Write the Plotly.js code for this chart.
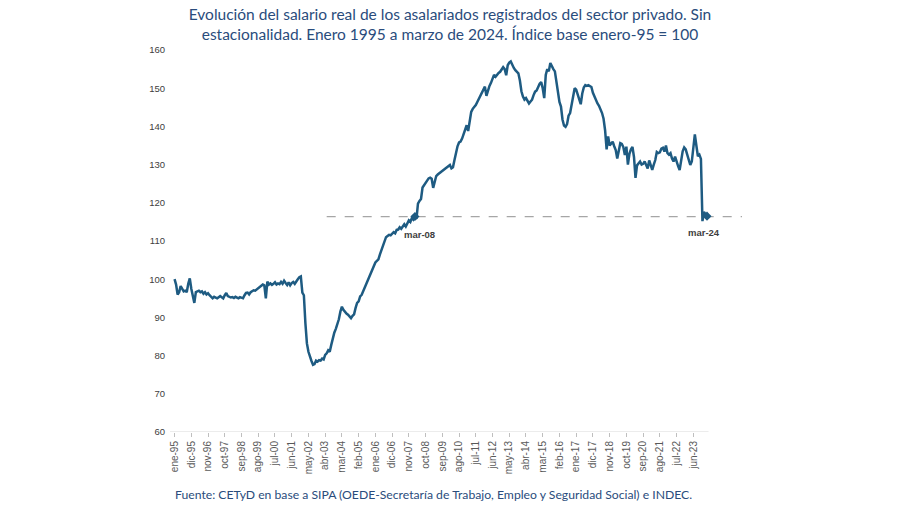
<!DOCTYPE html>
<html>
<head>
<meta charset="utf-8">
<script src="https://cdn.plot.ly/plotly-3.0.1.min.js"></script>
<style>
html,body{margin:0;padding:0;background:#fff;}
#chart{width:900px;height:505px;}
</style>
</head>
<body>
<div id="chart"></div>
<script>
// Índice del salario real (base enero-95 = 100), mensual, ene-95 a mar-24
const mesesAbrev = ['ene','feb','mar','abr','may','jun','jul','ago','sep','oct','nov','dic'];
const anioInicio = 1995;

const indice = [
  // 1995
  100.0, 98.6, 96.0, 96.6, 98.2, 97.4, 96.8, 97.0, 96.6, 98.8, 100.2, 97.5,
  // 1996
  95.5, 93.8, 96.6, 96.8, 97.0, 96.6, 96.8, 96.2, 96.6, 96.0, 96.3, 95.8,
  // 1997
  95.3, 95.0, 95.4, 95.1, 95.0, 95.3, 95.6, 95.3, 95.0, 95.8, 96.4, 95.6,
  // 1998
  95.4, 95.2, 95.3, 95.1, 95.4, 95.2, 95.0, 95.3, 95.1, 95.0, 95.8, 96.4,
  // 1999
  96.5, 96.0, 96.6, 96.9, 97.1, 97.0, 97.3, 97.6, 97.8, 98.2, 98.6, 98.4,
  // 2000
  95.0, 99.4, 98.6, 98.9, 98.5, 98.8, 99.2, 98.6, 98.9, 98.7, 99.3, 98.8,
  // 2001
  99.6, 99.0, 98.5, 99.2, 98.4, 99.0, 99.3, 98.8, 99.6, 100.0, 100.5, 100.7,
  // 2002
  96.5, 95.8, 88.5, 83.2, 81.0, 79.5, 78.6, 77.6, 77.8, 78.7, 78.4, 78.8,
  // 2003
  78.7, 79.2, 79.0, 80.2, 80.6, 81.4, 81.0, 82.8, 84.6, 86.0, 87.0, 88.0,
  // 2004
  89.5, 91.5, 92.8, 92.0, 91.4, 91.0, 90.7, 90.2, 89.8, 90.4, 90.8, 92.5,
  // 2005
  93.8, 94.2, 95.5, 95.9, 96.8, 97.8, 98.6, 99.6, 100.8, 101.5, 102.4, 103.5,
  // 2006
  104.4, 104.8, 105.2, 106.5, 107.6, 108.8, 110.3, 111.0, 111.3, 111.6, 111.5, 112.0,
  // 2007
  112.3, 112.0, 112.9, 113.0, 113.6, 113.2, 114.0, 114.4, 113.8, 114.8, 115.4, 115.0,
  // 2008
  116.0, 115.6, 116.4, 115.8, 119.8, 120.5, 121.0, 124.0, 124.6, 125.4, 125.8, 126.4,
  // 2009
  126.6, 126.3, 123.9, 125.5, 127.0, 127.4, 127.7, 128.0, 128.3, 128.6, 128.8, 129.1,
  // 2010
  129.4, 129.9, 129.0, 129.3, 131.2, 133.4, 134.8, 135.8, 136.0, 136.8, 138.0, 139.4,
  // 2011
  140.3, 138.8, 141.2, 143.8, 144.6, 145.0, 145.6, 146.4, 147.2, 148.2, 149.1, 149.6,
  // 2012
  150.4, 148.0, 149.6, 150.6, 151.4, 152.4, 153.5, 153.0, 153.6, 154.0, 154.3, 154.8,
  // 2013
  155.5, 155.0, 153.4, 156.0, 156.7, 157.0, 156.0, 155.3, 154.7, 154.3, 153.9, 152.0,
  // 2014
  149.2, 147.8, 147.0, 147.4, 146.6, 146.0, 146.5, 147.0, 148.2, 149.1, 149.4, 150.3,
  // 2015
  151.2, 151.6, 150.0, 147.4, 153.5, 155.0, 154.4, 156.6, 155.6, 155.0, 154.4, 151.5,
  // 2016
  148.0, 146.4, 145.2, 141.8, 140.2, 139.9, 140.6, 142.8, 143.5, 146.0, 148.0, 150.0,
  // 2017
  149.6, 148.2, 146.5, 145.8, 148.6, 150.2, 150.8, 150.6, 150.8, 150.5, 150.3, 148.8,
  // 2018
  147.8, 147.0, 146.0, 145.4, 144.6, 143.5, 142.0, 139.0, 134.0, 137.4, 135.0, 135.5,
  // 2019
  136.0, 134.8, 133.8, 131.6, 133.3, 135.6, 135.4, 134.6, 132.5, 134.7, 130.0, 132.8,
  // 2020
  134.0, 134.6, 132.0, 126.5, 129.8, 130.4, 130.8, 130.0, 130.2, 130.8, 129.6, 129.0,
  // 2021
  131.1, 129.8, 128.6, 130.0, 131.2, 133.3, 133.0, 133.2, 134.2, 134.4, 133.4, 135.0,
  // 2022
  133.0, 132.6, 133.0, 131.6, 130.8, 132.1, 130.6, 129.6, 128.6, 131.5, 133.5, 134.5,
  // 2023
  134.0, 132.6, 130.8, 129.9, 130.8, 134.5, 137.9, 135.0, 132.2, 132.6, 131.5, 115.2,
  // 2024
  117.6, 117.0, 116.5
];

const etiquetasEje = ['ene-95','dic-95','nov-96','oct-97','sep-98','ago-99','jul-00','jun-01',
  'may-02','abr-03','mar-04','feb-05','ene-06','dic-06','nov-07','oct-08','sep-09','ago-10',
  'jul-11','jun-12','may-13','abr-14','mar-15','feb-16','ene-17','dic-17','nov-18','oct-19',
  'sep-20','ago-21','jul-22','jun-23'];

const destacados = ['mar-08','mar-24'];
const yTicks = [60,70,80,90,100,110,120,130,140,150,160];

const categorias = indice.map((_, k) =>
  mesesAbrev[k % 12] + '-' + String((anioInicio + Math.floor(k / 12)) % 100).padStart(2, '0'));

const idx08 = categorias.indexOf('mar-08');
const idx24 = categorias.indexOf('mar-24');
const nivelRef = indice[idx08];

const azul = '#1E5B82';
const azulTexto = '#2A4C7C';
const fuenteEje = '"Liberation Sans", Arial, sans-serif';
const fuenteTexto = 'Lato, "Liberation Sans", sans-serif';

const traces = [
  {
    type: 'scatter', mode: 'lines',
    x: categorias, y: indice,
    line: {color: azul, width: 2.5},
    hoverinfo: 'x+y', showlegend: false
  },
  {
    type: 'scatter', mode: 'markers',
    x: destacados, y: destacados.map(c => indice[categorias.indexOf(c)]),
    marker: {symbol: 'diamond', size: 7, color: azul},
    showlegend: false, hoverinfo: 'skip'
  }
];

const layout = {
  width: 900, height: 505,
  paper_bgcolor: '#ffffff', plot_bgcolor: '#ffffff',
  margin: {l: 170, r: 158, t: 50, b: 73},
  showlegend: false,
  title: {
    text: 'Evolución del salario real de los asalariados registrados del sector privado. Sin<br>estacionalidad. Enero 1995 a marzo de 2024. Índice base enero-95 = 100',
    font: {family: fuenteTexto, size: 15.5, color: azulTexto},
    x: 0.5, xanchor: 'center', y: 0.96, yanchor: 'top'
  },
  xaxis: {
    type: 'category',
    categoryorder: 'array', categoryarray: categorias,
    range: [-3, 373],
    tickmode: 'array', tickvals: etiquetasEje, ticktext: etiquetasEje,
    tickangle: -90,
    ticks: 'outside', ticklen: 4, tickcolor: '#BFBFBF', tickwidth: 1,
    tickfont: {family: fuenteEje, size: 10, color: '#595959'},
    showgrid: false, zeroline: false, showline: false,
    fixedrange: true
  },
  yaxis: {
    range: [60, 160],
    tickmode: 'array', tickvals: yTicks,
    ticks: '', showgrid: false, zeroline: false, showline: false,
    tickfont: {family: fuenteEje, size: 9.5, color: '#404040'},
    ticklabelstandoff: 4,
    fixedrange: true
  },
  shapes: [
    {type: 'line', xref: 'x', yref: 'y', x0: -3, x1: 351, y0: 60, y1: 60,
     line: {color: '#D9D9D9', width: 1}, layer: 'below'},
    {type: 'line', xref: 'x', yref: 'y', x0: 100, x1: 373, y0: nivelRef, y1: nivelRef,
     line: {color: '#A6A6A6', width: 1.2, dash: 'dash'}, layer: 'below'}
  ],
  annotations: [
    {x: 'mar-08', y: nivelRef, xref: 'x', yref: 'y', text: '<b>mar-08</b>', showarrow: false,
     xshift: 5, yshift: -18, font: {family: fuenteEje, size: 9.5, color: '#404040'}},
    {x: 'mar-24', y: indice[idx24], xref: 'x', yref: 'y', text: '<b>mar-24</b>', showarrow: false,
     xshift: -3, yshift: -16, font: {family: fuenteEje, size: 9.5, color: '#404040'}},
    {x: 0.5, y: 0, xref: 'paper', yref: 'paper', xanchor: 'center', yanchor: 'middle',
     yshift: -62, xshift: -23,
     text: 'Fuente: CETyD en base a SIPA (OEDE-Secretaría de Trabajo, Empleo y Seguridad Social) e INDEC.',
     showarrow: false, font: {family: fuenteTexto, size: 12.2, color: azulTexto}}
  ]
};

Plotly.newPlot('chart', traces, layout, {displayModeBar: false, staticPlot: true});
</script>
</body>
</html>
